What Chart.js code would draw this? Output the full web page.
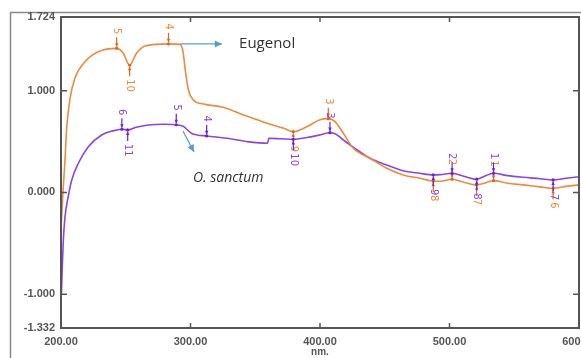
<!DOCTYPE html>
<html>
<head>
<meta charset="utf-8">
<script src="https://cdn.jsdelivr.net/npm/chart.js@4"></script>
<style>
  html, body { margin: 0; padding: 0; background: #fff; }
  #wrap { width: 581px; height: 358px; }
</style>
</head>
<body>
<div id="wrap"><canvas id="spectre" width="581" height="358"></canvas></div>
<script>
// spectre UV-Vis : Eugenol (orange) et O. sanctum (violet)
const eugenolNm = [200.3, 201.5, 203, 204.4, 207, 210.8, 218.5, 228.8, 243, 248, 253, 258.4, 265, 283, 292, 294.4, 296, 298.4, 302.2, 310, 325, 341, 359, 372, 379.4, 390, 400, 406.4, 411.6, 418, 425.7, 438.6, 451.5, 464.3, 477.2, 487.5, 493, 502, 511, 521, 527, 534, 545, 557, 570, 580, 590, 600];
const eugenolAbs = [-0.30, 0.0, 0.30, 0.634, 0.925, 1.125, 1.285, 1.383, 1.416, 1.37, 1.25, 1.37, 1.44, 1.46, 1.455, 1.37, 1.2, 1.007, 0.909, 0.869, 0.837, 0.761, 0.68, 0.631, 0.597, 0.647, 0.715, 0.725, 0.696, 0.582, 0.434, 0.336, 0.238, 0.172, 0.139, 0.112, 0.11, 0.13, 0.10, 0.074, 0.09, 0.116, 0.09, 0.074, 0.055, 0.041, 0.06, 0.074];

const sanctumNm = [200.3, 201, 201.8, 203.1, 205.6, 208.3, 213.4, 221.1, 231.4, 240, 247, 251.5, 258, 267.4, 280, 289, 294.4, 298, 301, 305, 312.5, 328, 343.4, 359.5, 360.5, 370, 379.4, 390, 400, 407.7, 412, 418, 425.7, 438.6, 451.5, 464, 477, 487.5, 493, 502, 511, 521, 527, 534, 545, 557, 570, 580, 590, 600];
const sanctumAbs = [-1.0, -0.73, -0.47, -0.24, -0.04, 0.123, 0.287, 0.45, 0.565, 0.605, 0.621, 0.614, 0.64, 0.663, 0.67, 0.665, 0.65, 0.61, 0.58, 0.565, 0.555, 0.532, 0.5, 0.483, 0.532, 0.527, 0.522, 0.54, 0.565, 0.587, 0.575, 0.516, 0.444, 0.336, 0.27, 0.214, 0.188, 0.172, 0.175, 0.188, 0.16, 0.13, 0.16, 0.188, 0.165, 0.149, 0.135, 0.123, 0.14, 0.155];

// pics (haut) et vallées (bas) : [nm, numéro, sens]
const eugenolPeaks = [[534, "1", "up"], [502, "2", "up"], [406.4, "3", "up"], [283, "4", "up"], [243, "5", "up"],
                      [580, "6", "down"], [521, "7", "down"], [487.5, "8", "down"], [379.4, "9", "down"], [253, "10", "down"]];
const sanctumPeaks = [[534, "1", "up"], [502, "2", "up"], [407.7, "3", "up"], [312.5, "4", "up"], [289, "5", "up"], [247, "6", "up"],
                      [580, "7", "down"], [521, "8", "down"], [487.5, "9", "down"], [379.4, "10", "down"], [251.5, "11", "down"]];

const yTickValues = [-1.332, -1.000, 0.000, 1.000, 1.724];
const xTickValues = [200, 300, 400, 500, 600];
const innerTicksY = [-1, 0, 1];
const innerTicksX = [300, 400, 500];

const orange = "#EE8A3C";
const violet = "#8A44E6";
const bleu = "#5B9BD5";

function toPoints(xs, ys) {
    return xs.map((x, i) => ({ x: x, y: ys[i] }));
}

function nearest(xs, ys, nm) {
    let best = 0;
    xs.forEach((x, i) => { if (Math.abs(x - nm) < Math.abs(xs[best] - nm)) best = i; });
    return ys[best];
}

function drawArrow(ctx, x1, y1, x2, y2, color, head) {
    ctx.strokeStyle = color;
    ctx.fillStyle = color;
    ctx.beginPath();
    ctx.moveTo(x1, y1);
    ctx.lineTo(x2, y2);
    ctx.stroke();
    const a = Math.atan2(y2 - y1, x2 - x1);
    ctx.beginPath();
    ctx.moveTo(x2, y2);
    ctx.lineTo(x2 - head * Math.cos(a - 0.45), y2 - head * Math.sin(a - 0.45));
    ctx.lineTo(x2 - head * Math.cos(a + 0.45), y2 - head * Math.sin(a + 0.45));
    ctx.closePath();
    ctx.fill();
}

const decor = {
    id: "decor",
    beforeDraw(chart) {
        const ctx = chart.ctx;
        ctx.save();
        ctx.strokeStyle = "#8a8a8a";
        ctx.lineWidth = 1.5;
        ctx.beginPath();
        ctx.moveTo(10.5, 358);
        ctx.lineTo(10.5, 12.5);
        ctx.lineTo(581, 12.5);
        ctx.stroke();
        ctx.restore();
    },
    afterDatasetsDraw(chart) {
        const ctx = chart.ctx;
        const a = chart.chartArea;
        const xs = chart.scales.x, ys = chart.scales.y;
        ctx.save();

        // cadre + graduations intérieures
        ctx.strokeStyle = "#555";
        ctx.lineWidth = 2;
        ctx.strokeRect(a.left, a.top, a.right - a.left, a.bottom - a.top);
        ctx.lineWidth = 1.5;
        innerTicksY.forEach(v => {
            const y = ys.getPixelForValue(v);
            ctx.beginPath();
            ctx.moveTo(a.left, y); ctx.lineTo(a.left + 6, y);
            ctx.moveTo(a.right, y); ctx.lineTo(a.right - 6, y);
            ctx.stroke();
        });
        innerTicksX.forEach(v => {
            const x = xs.getPixelForValue(v);
            ctx.beginPath();
            ctx.moveTo(x, a.bottom); ctx.lineTo(x, a.bottom - 5);
            ctx.moveTo(x, a.top); ctx.lineTo(x, a.top + 5);
            ctx.stroke();
        });

        // repères des pics
        const marks = [[eugenolNm, eugenolAbs, eugenolPeaks, "#E2661A", orange],
                       [sanctumNm, sanctumAbs, sanctumPeaks, "#6A22D8", violet]];
        ctx.font = "10px 'DejaVu Sans'";
        ctx.textBaseline = "middle";
        ctx.lineWidth = 1.2;
        marks.forEach(([nx, ny, peaks, dark, light]) => {
            peaks.forEach(([nm, lab, dir]) => {
                const cx = xs.getPixelForValue(nm);
                const cy = ys.getPixelForValue(nearest(nx, ny, nm));
                const s = dir === "up" ? -1 : 1;
                drawArrow(ctx, cx, cy + s * 11, cx, cy + s * 1.5, dark, 4);
                ctx.beginPath();
                ctx.arc(cx, cy, 1.6, 0, Math.PI * 2);
                ctx.fill();
                ctx.save();
                ctx.translate(cx, cy + s * 14);
                ctx.rotate(Math.PI / 2);
                ctx.fillStyle = light;
                ctx.textAlign = dir === "up" ? "right" : "left";
                ctx.fillText(lab, 0, 0);
                ctx.restore();
            });
        });

        // légendes fléchées
        ctx.lineWidth = 1.3;
        drawArrow(ctx, xs.getPixelForValue(292), ys.getPixelForValue(1.459),
                  xs.getPixelForValue(324.3), ys.getPixelForValue(1.459), bleu, 8);
        drawArrow(ctx, xs.getPixelForValue(294.2), ys.getPixelForValue(0.604),
                  xs.getPixelForValue(302.7), ys.getPixelForValue(0.398), bleu, 8);
        ctx.fillStyle = "#333";
        ctx.textAlign = "left";
        ctx.textBaseline = "middle";
        ctx.font = "15px 'Open Sans'";
        ctx.fillText("Eugenol", xs.getPixelForValue(337.5), ys.getPixelForValue(1.459));
        ctx.font = "italic 14px 'Open Sans'";
        ctx.fillText("O. sanctum", xs.getPixelForValue(301.9), ys.getPixelForValue(0.142));

        // unité
        ctx.fillStyle = "#555";
        ctx.font = "bold 10px 'Liberation Sans'";
        ctx.textAlign = "center";
        ctx.fillText("nm.", xs.getPixelForValue(400), 352);
        ctx.restore();
    }
};

new Chart(document.getElementById("spectre"), {
    type: "line",
    data: {
        datasets: [
            {
                label: "Eugenol",
                data: toPoints(eugenolNm, eugenolAbs),
                borderColor: orange,
                borderWidth: 1.6,
                pointRadius: 0,
                fill: false,
                cubicInterpolationMode: "monotone"
            },
            {
                label: "O. sanctum",
                data: toPoints(sanctumNm, sanctumAbs),
                borderColor: violet,
                borderWidth: 1.6,
                pointRadius: 0,
                fill: false,
                cubicInterpolationMode: "monotone"
            }
        ]
    },
    options: {
        responsive: false,
        animation: false,
        layout: { padding: { left: 0, top: 17, right: 2, bottom: 0 } },
        plugins: {
            legend: { display: false },
            tooltip: { enabled: false }
        },
        scales: {
            x: {
                type: "linear",
                min: 200,
                max: 600,
                grid: { display: false, drawTicks: false },
                border: { display: false },
                afterBuildTicks: s => { s.ticks = xTickValues.map(v => ({ value: v })); },
                afterFit: s => { s.height = 30; s.paddingLeft = 0; s.paddingRight = 0; },
                ticks: {
                    padding: 7,
                    maxRotation: 0,
                    color: "#555",
                    font: { family: "Liberation Sans", size: 11, weight: "bold" },
                    callback: v => v.toFixed(2)
                }
            },
            y: {
                min: -1.332,
                max: 1.724,
                grid: { display: false, drawTicks: false },
                border: { display: false },
                afterBuildTicks: s => { s.ticks = yTickValues.map(v => ({ value: v })); },
                afterFit: s => { s.width = 61; s.paddingTop = 0; s.paddingBottom = 0; },
                ticks: {
                    padding: 6,
                    color: "#555",
                    font: { family: "Liberation Sans", size: 11, weight: "bold" },
                    callback: v => v.toFixed(3)
                }
            }
        }
    },
    plugins: [decor]
});
</script>
</body>
</html>
